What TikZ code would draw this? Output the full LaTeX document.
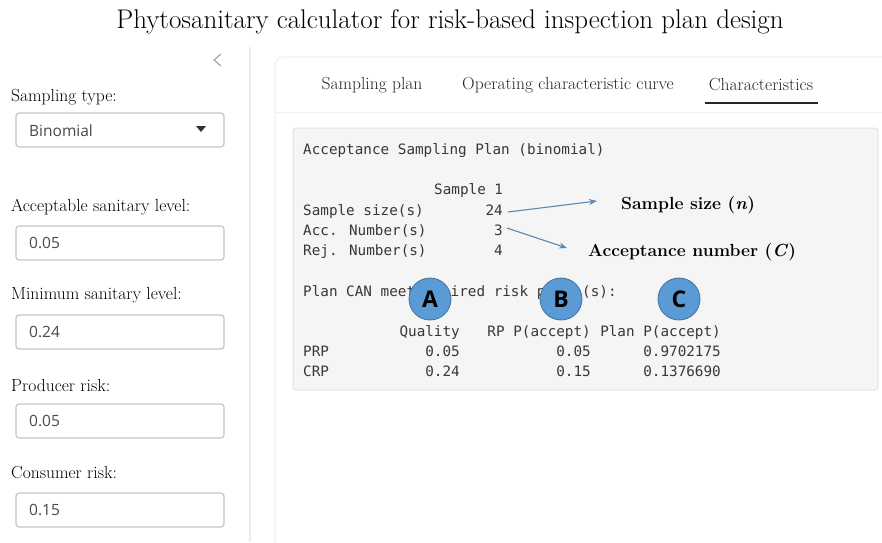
\documentclass[tikz,border=0pt]{standalone}
\usepackage{fontspec}
\usepackage{xcolor}
\usetikzlibrary{positioning,calc,arrows.meta}

\newfontfamily\uifont{Open Sans}
\newfontfamily\codefont{DejaVu Sans Mono}

\definecolor{panelgray}{HTML}{F5F5F5}
\definecolor{panelline}{HTML}{E3E3E3}
\definecolor{inputline}{HTML}{C6C6C6}
\definecolor{inputtext}{HTML}{4A4A4A}
\definecolor{codetext}{HTML}{383838}
\definecolor{pointer}{HTML}{5B87B3}
\definecolor{badge}{HTML}{5B9BD5}
\definecolor{badgeline}{HTML}{41719C}

\tikzset{
	label/.style={font=\fontsize{17.5}{20}\selectfont, anchor=west, inner sep=0},
	inputbox/.style={draw=inputline, line width=1.2pt, rounded corners=3pt},
	inputval/.style={font=\uifont\fontsize{15.5}{18}\selectfont, text=inputtext, anchor=west, inner sep=0},
	tab/.style={font=\fontsize{17.5}{20}\selectfont, text=black!85, inner sep=0},
	code/.style={font=\codefont\fontsize{14.3}{17}\selectfont, text=codetext, anchor=base west, inner sep=0},
	codeR/.style={code, anchor=base east},
	callout/.style={font=\bfseries\fontsize{17.5}{21}\selectfont, anchor=west, inner sep=0},
	badgecirc/.style={circle, fill=badge, draw=badgeline, line width=0.8pt, minimum size=42pt, inner sep=0,
		font=\uifont\bfseries\fontsize{23}{25}\selectfont},
	pointerarrow/.style={draw=pointer, line width=1.1pt, -{Stealth[length=8pt,width=6pt]}}
}

\begin{document}
\begin{tikzpicture}[x=1pt, y=-1pt]
		
		\useasboundingbox[fill=white] (0,0) rectangle (882,542);
		
		% heading
		\node (title) at (450,22) {\fontsize{27}{32}\selectfont Phytosanitary calculator for risk-based inspection plan design};
		
		% sidebar
		\draw[gray!15, line width=1.2pt] (250,47) -- (250,542);
		\draw[gray!80, line width=1pt] (221,54) -- (214,60) -- (221,66);
		
		\node[label] (typeLbl) at (11,97) {Sampling type:};
		\draw[inputbox] (16,113) rectangle (224,147);
		\node[inputval] (typeVal) at (29,131) {Binomial};
		\fill[black!80] (196,126) -- (206,126) -- (201,132) -- cycle;
		
		\node[label] (aslLbl) at (11,207) {Acceptable sanitary level:};
		\draw[inputbox] (16,226) rectangle (224,260);
		\node[inputval] (aslVal) at (29,243) {0.05};
		
		\node[label] (mslLbl) at (11,295) {Minimum sanitary level:};
		\draw[inputbox] (16,315) rectangle (224,349);
		\node[inputval] (mslVal) at (29,332) {0.24};
		
		\node[label] (prodLbl) at (11,385) {Producer risk:};
		\draw[inputbox] (16,404) rectangle (224,438);
		\node[inputval] (prodVal) at (29,421) {0.05};
		
		\node[label] (consLbl) at (11,473) {Consumer risk:};
		\draw[inputbox] (16,493) rectangle (224,527);
		\node[inputval] (consVal) at (29,510) {0.15};
		
		% main panel with tabs
		\draw[gray!12, line width=1.2pt, rounded corners=8pt] (275,57) rectangle (900,560);
		\draw[gray!12, line width=1pt] (276,112) -- (882,112);
		
		\node[tab] (tabPlan) at (372,85) {Sampling plan};
		\node[tab] (tabOC) at (568,85) {Operating characteristic curve};
		\node[tab] (tabChar) at (761,85) {Characteristics};
		\draw[black!85, line width=2.2pt] (705,103) -- (818,103);
		
		% printed output
		\draw[fill=panelgray, draw=panelline, line width=1pt, rounded corners=3pt] (293,128) rectangle (878,390);
		
		\node[code] (head) at (303,154) {Acceptance Sampling Plan (binomial)};
		\node[code] (colHead) at (434,194) {Sample 1};
		
		\node[code] (nLbl) at (303,215) {Sample size(s)};
		\node[codeR] (nVal) at (503,215) {24};
		\node[code] (cLbl) at (303,235) {Acc. Number(s)};
		\node[codeR] (cVal) at (503,235) {3};
		\node[code] (rLbl) at (303,255) {Rej. Number(s)};
		\node[codeR] (rVal) at (503,255) {4};
		
		% this line is partly hidden by the badges
		\node[code] (meet) at (303,296) {Plan CAN meet};
		\node[code] (meetMid) at (450.5,296) {ired risk p};
		\node[code] (meetEnd) at (582,296) {(s):};
		
		\node[codeR] (qHead) at (460,336) {Quality};
		\node[codeR] (rpHead) at (591,336) {RP P(accept)};
		\node[codeR] (planHead) at (721,336) {Plan P(accept)};
		
		\node[code] (prp) at (303,356) {PRP};
		\node[codeR] (prpQ) at (460,356) {0.05};
		\node[codeR] (prpRP) at (591,356) {0.05};
		\node[codeR] (prpPlan) at (721,356) {0.9702175};
		
		\node[code] (crp) at (303,376) {CRP};
		\node[codeR] (crpQ) at (460,376) {0.24};
		\node[codeR] (crpRP) at (591,376) {0.15};
		\node[codeR] (crpPlan) at (721,376) {0.1376690};
		
		% callouts
		\node[callout] (nNote) at (621,205) {Sample size (\textit{n})};
		\node[callout] (cNote) at (588,252) {Acceptance number (\textit{C})};
		
		\coordinate (nTip) at (597,201);
		\coordinate (cTip) at (567,248);
		\draw[pointerarrow] ([xshift=5pt,yshift=3pt]nVal.base east) -- (nTip);
		\draw[pointerarrow] ([xshift=4pt,yshift=7pt]cVal.base east) -- (cTip);
		
		\node[badgecirc] (badgeA) at (430,299) {A};
		\node[badgecirc] (badgeB) at (561,299) {B};
		\node[badgecirc] (badgeC) at (679,299) {C};
		
	\end{tikzpicture}
\end{document}
